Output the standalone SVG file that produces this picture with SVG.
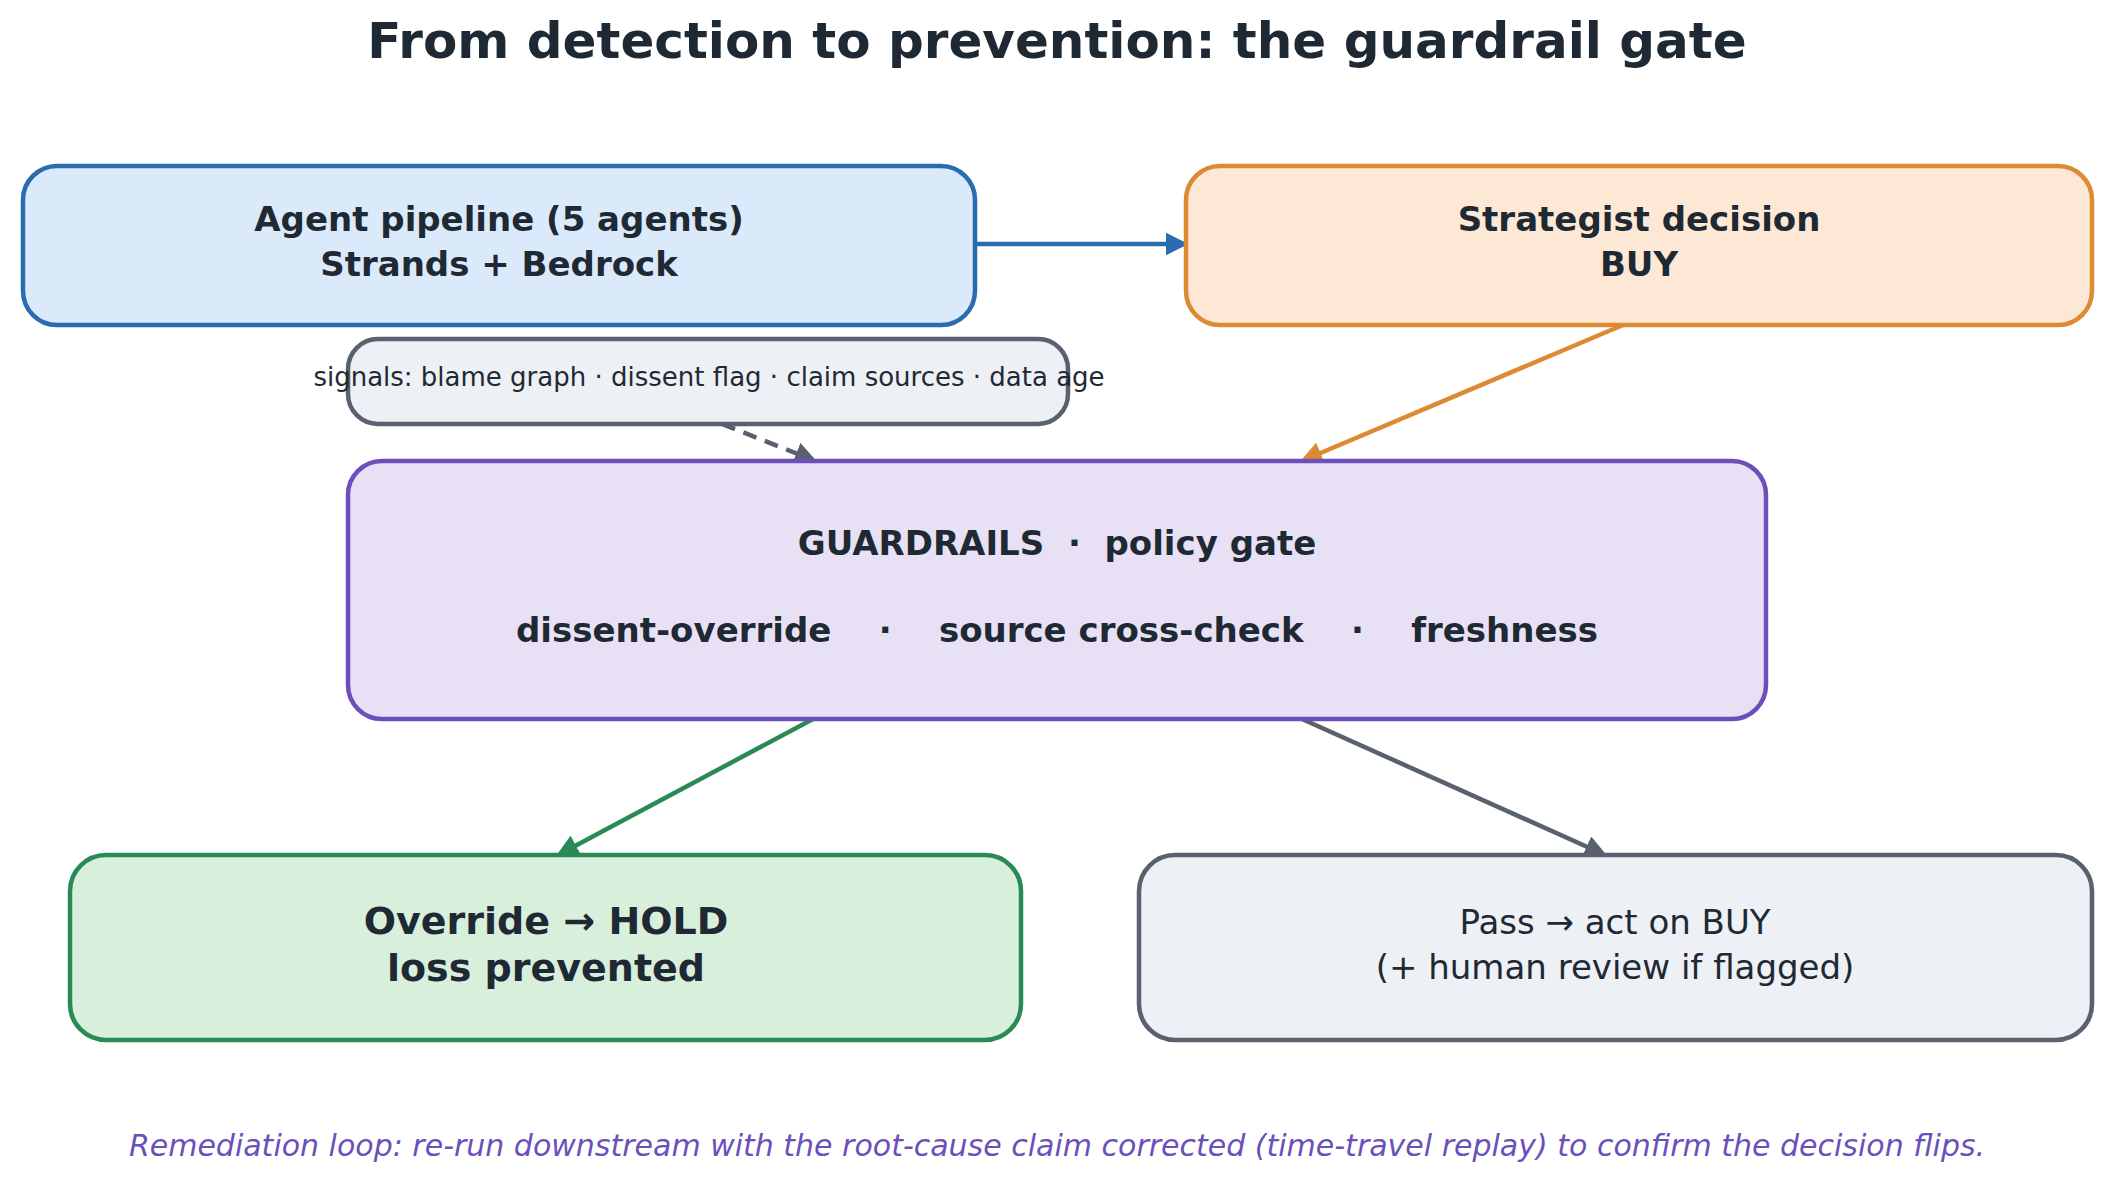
<svg xmlns="http://www.w3.org/2000/svg" width="2115" height="1184" viewBox="0 0 2115 1184">
<style>
text{font-family:"DejaVu Sans","Noto Sans",sans-serif;fill:#1f2933;text-anchor:middle}
.b{font-weight:bold}
.box{stroke-width:4.5}
.c{fill:none;stroke-width:4.5}
</style>
<defs>
<marker id="mb" viewBox="0 0 10 10" refX="8" refY="5" markerWidth="5" markerHeight="5" orient="auto"><path d="M0,0L10,5L0,10z" fill="#2b6cb0"/></marker>
<marker id="mo" viewBox="0 0 10 10" refX="8" refY="5" markerWidth="5" markerHeight="5" orient="auto"><path d="M0,0L10,5L0,10z" fill="#dd8a35"/></marker>
<marker id="mg" viewBox="0 0 10 10" refX="8" refY="5" markerWidth="5" markerHeight="5" orient="auto"><path d="M0,0L10,5L0,10z" fill="#5a616e"/></marker>
<marker id="mgr" viewBox="0 0 10 10" refX="8" refY="5" markerWidth="5" markerHeight="5" orient="auto"><path d="M0,0L10,5L0,10z" fill="#2a8a55"/></marker>
</defs>
<rect width="2115" height="1184" fill="#fff"/>
<text x="1057" y="58" class="b" font-size="50">From detection to prevention: the guardrail gate</text>
<g id="connectors">
<line x1="975" y1="244" x2="1184" y2="244" class="c" stroke="#2b6cb0" marker-end="url(#mb)"/>
<line x1="1623" y1="325" x2="1304" y2="460" class="c" stroke="#dd8a35" marker-end="url(#mo)"/>
<line x1="722" y1="424" x2="813" y2="460" class="c" stroke="#5a616e" stroke-dasharray="14,9" marker-end="url(#mg)"/>
<line x1="813" y1="719" x2="560" y2="854" class="c" stroke="#2a8a55" marker-end="url(#mgr)"/>
<line x1="1302" y1="719" x2="1603" y2="854" class="c" stroke="#5a616e" marker-end="url(#mg)"/>
</g>
<g id="pipeline"><rect x="23" y="166" width="952" height="159" rx="34" class="box" fill="#dbeafa" stroke="#2b6cb0"/>
<text x="499" y="231" class="b" font-size="34">Agent pipeline (5 agents)</text><text x="499" y="276" class="b" font-size="34">Strands + Bedrock</text></g>
<g id="strategist"><rect x="1186" y="166" width="906" height="159" rx="34" class="box" fill="#fce8d5" stroke="#dd8a35"/>
<text x="1639" y="231" class="b" font-size="34">Strategist decision</text><text x="1639" y="276" class="b" font-size="34">BUY</text></g>
<g id="signals"><rect x="348" y="339" width="720" height="85" rx="30" class="box" fill="#edf0f5" stroke="#5a616e"/>
<text x="709" y="386" font-size="26">signals: blame graph · dissent flag · claim sources · data age</text></g>
<g id="guardrails"><rect x="348" y="461" width="1418" height="258" rx="34" class="box" fill="#e8e1f6" stroke="#6b4fbb"/>
<text x="1057" y="555" class="b" font-size="34" style="white-space:pre">GUARDRAILS  ·  policy gate</text>
<text x="1057" y="642" class="b" font-size="34" style="white-space:pre">dissent-override    ·    source cross-check    ·    freshness</text></g>
<g id="override"><rect x="70" y="855" width="951" height="185" rx="36" class="box" fill="#d8efdc" stroke="#2a8a55"/>
<text x="546" y="934" class="b" font-size="38">Override → HOLD</text><text x="546" y="981" class="b" font-size="38">loss prevented</text></g>
<g id="pass"><rect x="1139" y="855" width="953" height="185" rx="36" class="box" fill="#edf0f5" stroke="#5a616e"/>
<text x="1615" y="934" font-size="34">Pass → act on BUY</text><text x="1615" y="979" font-size="34">(+ human review if flagged)</text></g>
<text x="1057" y="1156" font-size="30" font-style="italic" style="fill:#6b4fbb">Remediation loop: re-run downstream with the root-cause claim corrected (time-travel replay) to confirm the decision flips.</text>
</svg>
